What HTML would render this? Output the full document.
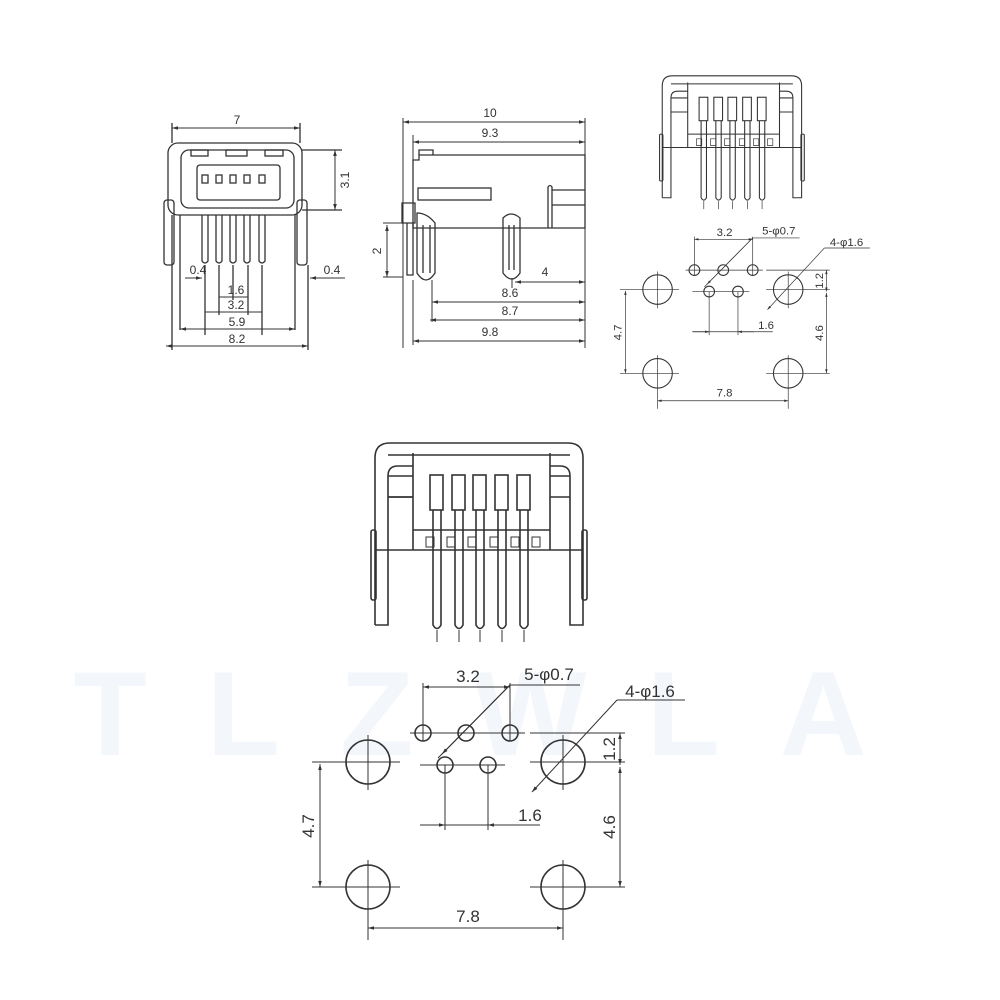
<!DOCTYPE html>
<html><head><meta charset="utf-8"><style>
html,body{margin:0;padding:0;background:#fff;}
svg{display:block}
text{font-family:"Liberation Sans",Arial,sans-serif;fill:#333}
</style></head><body>
<svg width="1000" height="1000" viewBox="0 0 1000 1000" xmlns="http://www.w3.org/2000/svg">
<defs>
<marker id="a" viewBox="0 0 10 10" refX="10" refY="5" markerWidth="8" markerHeight="6" orient="auto-start-reverse"><path d="M0,2 L10,5 L0,8 z" fill="#333"/></marker>
</defs>
<rect width="1000" height="1000" fill="#fff"/>
<!-- watermark -->
<text x="500" y="755" font-size="120" font-weight="bold" text-anchor="middle" style="fill:#f3f6fa" letter-spacing="60">TLZWLA</text>

<g fill="none" stroke="#333" stroke-width="1.3">
<!-- Front view -->
<rect x="168" y="143" width="134" height="72" rx="10"/>
<rect x="181" y="150" width="113" height="58" rx="8"/>
<rect x="197" y="165" width="83" height="35" rx="3"/>
<rect x="191" y="150" width="17" height="6"/><rect x="226" y="150" width="21" height="6"/><rect x="265" y="150" width="18" height="6"/>
<rect x="202" y="175" width="6" height="8"/><rect x="216" y="175" width="6" height="8"/><rect x="230" y="175" width="6" height="8"/><rect x="244" y="175" width="6" height="8"/><rect x="259" y="175" width="6" height="8"/>
<path d="M202,215 v46 q3,4 6,0 v-46 M216,215 v46 q3,4 6,0 v-46 M230,215 v46 q3,4 6,0 v-46 M244,215 v46 q3,4 6,0 v-46 M259,215 v46 q3,4 6,0 v-46"/>
<rect x="164" y="200" width="10" height="65" rx="3"/><rect x="297" y="200" width="10" height="65" rx="3"/>
<path d="M172,143 v-20 M300,143 v-20 M172,215 v135 M308,265 v85 M180,215 v115 M295,215 v115 M205,265 v70 M262,265 v70 M219,265 v50 M248,265 v50 M233,265 v35"/>
<path d="M302,150 h40 M302,210 h40"/>
</g>
<g stroke="#333" stroke-width="1" fill="none">
<line x1="172" y1="128" x2="300" y2="128" marker-start="url(#a)" marker-end="url(#a)"/>
<line x1="335" y1="150" x2="335" y2="210" marker-start="url(#a)" marker-end="url(#a)"/>
<line x1="185" y1="278" x2="202" y2="278" marker-end="url(#a)"/>
<line x1="345" y1="278" x2="310" y2="278" marker-end="url(#a)"/>
<line x1="219" y1="297" x2="248" y2="297"/>
<line x1="205" y1="312" x2="262" y2="312"/>
<line x1="180" y1="329" x2="295" y2="329" marker-start="url(#a)" marker-end="url(#a)"/>
<line x1="166" y1="346" x2="308" y2="346" marker-start="url(#a)" marker-end="url(#a)"/>
</g>
<g font-size="12" text-anchor="middle">
<text x="237" y="124">7</text>
<text x="349" y="180" transform="rotate(-90 349 180)">3.1</text>
<text x="198" y="274">0.4</text><text x="332" y="274">0.4</text>
<text x="236" y="294">1.6</text><text x="236" y="309">3.2</text>
<text x="237" y="326">5.9</text><text x="237" y="343">8.2</text>
</g>

<!-- Side view -->
<g fill="none" stroke="#333" stroke-width="1.3">
<path d="M413,160 h6 v-5 h166 v73 H413 z"/>
<path d="M419,155 v-5 h14 v5"/>
<rect x="418" y="188" width="73" height="12"/>
<path d="M548,228 v-41 q2,-3 4,0 v41 M552,190 h33 M552,205 h33"/>
<path d="M402,203 h13 v20 h-13 z"/>
<path d="M407,223 v52 h6 v-52"/>
<path d="M417,213 q10,0 18,10 v50 q-9,14 -18,0 z M423,225 v48 M430,225 v48"/>
<path d="M503,228 v-10 q8,-8 17,0 v55 q-8,12 -17,0 z M509,225 v45 M514,225 v45"/>
</g>
<g stroke="#333" stroke-width="1" fill="none">
<path d="M403,118 v230 M585,118 v230 M413,135 v25 M432,280 v42 M413,280 v65 M512,278 v10 M403,223 h-20 M403,277 h-20"/>
<line x1="403" y1="122" x2="585" y2="122" marker-start="url(#a)" marker-end="url(#a)"/>
<line x1="413" y1="142" x2="585" y2="142" marker-start="url(#a)" marker-end="url(#a)"/>
<line x1="387" y1="225" x2="387" y2="277" marker-start="url(#a)" marker-end="url(#a)"/>
<line x1="515" y1="282" x2="585" y2="282" marker-start="url(#a)" marker-end="url(#a)"/>
<line x1="432" y1="302" x2="585" y2="302" marker-start="url(#a)" marker-end="url(#a)"/>
<line x1="430" y1="320" x2="585" y2="320" marker-start="url(#a)" marker-end="url(#a)"/>
<line x1="413" y1="341" x2="585" y2="341" marker-start="url(#a)" marker-end="url(#a)"/>
</g>
<g font-size="12" text-anchor="middle">
<text x="490" y="117">10</text><text x="490" y="137">9.3</text>
<text x="381" y="251" transform="rotate(-90 381 251)">2</text>
<text x="545" y="276">4</text><text x="510" y="297">8.6</text><text x="510" y="315">8.7</text><text x="490" y="336">9.8</text>
</g>

<!-- Big connector + footprint, reused scaled at top right -->
<g id="big">
<g fill="none" stroke="#333" stroke-width="1.6">
<path d="M375,625 V458 q0,-15 15,-15 H568 q15,0 15,15 V625 h-13 V497 h-20 M375,625 h13 V497 h25 M388,625 V476 q0,-10 10,-10 h15 M583,458 M570,625 V476 q0,-10 -10,-10 h-10 M388,476 h25 M550,476 h20"/>
<path d="M388,455 H570 M413,453 V550 M550,453 V550 M413,530 H550 M413,550 H550 M388,497 h25 M375,550 h38 M550,550 h33"/>
<rect x="371" y="530" width="5" height="70" rx="2"/><rect x="582" y="530" width="5" height="70" rx="2"/>
<rect x="430" y="475" width="13" height="35"/><rect x="452" y="475" width="13" height="35"/><rect x="473" y="475" width="13" height="35"/><rect x="495" y="475" width="13" height="35"/><rect x="517" y="475" width="13" height="35"/>
<path d="M433,510 v115 q4,7 8,0 V510 M455,510 v115 q4,7 8,0 V510 M476,510 v115 q4,7 8,0 V510 M498,510 v115 q4,7 8,0 V510 M520,510 v115 q4,7 8,0 V510"/>
<path d="M437,630 v12 M459,630 v12 M480,630 v12 M502,630 v12 M524,630 v12" stroke-width="1"/>
<path d="M426,537 h8 v10 h-8z M447,537 h8 v10 h-8z M468,537 h8 v10 h-8z M490,537 h8 v10 h-8z M511,537 h8 v10 h-8z M532,537 h8 v10 h-8z" stroke-width="1"/>
</g>
<g fill="none" stroke="#333" stroke-width="1.6">
<circle cx="368" cy="762" r="22"/><circle cx="563" cy="762" r="22"/>
<circle cx="368" cy="887" r="22"/><circle cx="563" cy="887" r="22"/>
<circle cx="423" cy="733" r="8"/><circle cx="466" cy="733" r="8"/><circle cx="510" cy="733" r="8"/>
<circle cx="445" cy="765" r="8"/><circle cx="488" cy="765" r="8"/>
</g>
<g fill="none" stroke="#333" stroke-width="1">
<path d="M312,762 h88 M530,762 h95 M312,887 h88 M530,887 h95 M368,735 v55 M563,735 v55 M368,860 v80 M563,860 v80"/>
<path d="M410,733 h115 M530,733 h95 M420,765 h85"/>
<path d="M423,683 v58 M510,683 v58 M445,765 v65 M488,765 v65"/>
<line x1="423" y1="687" x2="510" y2="687" marker-start="url(#a)" marker-end="url(#a)"/>
<path d="M510,685 L438,758 M510,685 H580" />
<line x1="510" y1="685" x2="442" y2="754" marker-end="url(#a)"/>
<path d="M617,700 H685"/>
<line x1="617" y1="700" x2="532" y2="792" marker-end="url(#a)"/>
<line x1="620" y1="733" x2="620" y2="765" marker-start="url(#a)" marker-end="url(#a)"/>
<line x1="620" y1="767" x2="620" y2="887" marker-start="url(#a)" marker-end="url(#a)"/>
<line x1="320" y1="764" x2="320" y2="887" marker-start="url(#a)" marker-end="url(#a)"/>
<line x1="368" y1="928" x2="563" y2="928" marker-start="url(#a)" marker-end="url(#a)"/>
<line x1="420" y1="825" x2="540" y2="825"/>
<line x1="420" y1="825" x2="445" y2="825" marker-end="url(#a)"/>
<line x1="512" y1="825" x2="488" y2="825" marker-end="url(#a)"/>
</g>
<g font-size="17" text-anchor="middle">
<text x="468" y="682">3.2</text>
<text x="549" y="680">5-φ0.7</text>
<text x="650" y="697">4-φ1.6</text>
<text x="615" y="749" transform="rotate(-90 615 749)">1.2</text>
<text x="615" y="827" transform="rotate(-90 615 827)">4.6</text>
<text x="314" y="826" transform="rotate(-90 314 826)">4.7</text>
<text x="530" y="821">1.6</text>
<text x="468" y="922">7.8</text>
</g>
</g>
<use href="#big" transform="translate(411,-221) scale(0.67)"/>
</svg>
</body></html>
